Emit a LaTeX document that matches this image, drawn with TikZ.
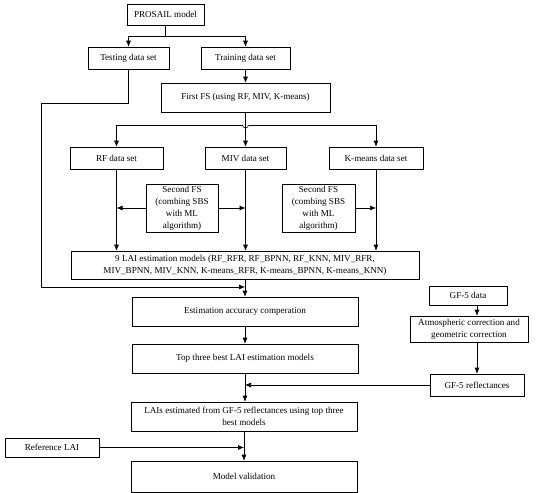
\documentclass[tikz,border=0pt]{standalone}
\usepackage{fontspec}
\setmainfont{Liberation Serif}
\usetikzlibrary{arrows.meta}
\begin{document}
\begin{tikzpicture}[x=1pt,y=-1pt,
  box/.style={draw,line width=0.6pt,inner sep=1pt,align=center,font=\fontsize{9.1}{12}\selectfont},
  arr/.style={-{Latex[length=6pt,width=5pt]},line width=0.6pt},
  ln/.style={line width=0.6pt}]
\useasboundingbox (0,0) rectangle (550,493);
\node[box,minimum width=77pt,minimum height=21pt] (prosail) at (165.5,14.5) {PROSAIL model};
\node[box,minimum width=81pt,minimum height=22pt] (testing) at (128.5,58) {Testing data set};
\node[box,minimum width=89pt,minimum height=22pt] (training) at (245.5,58) {Training data set};
\node[box,minimum width=169pt,minimum height=29pt] (firstfs) at (245.5,97.5) {First FS (using RF, MIV, K-means)};
\node[box,minimum width=93pt,minimum height=22pt] (rf) at (116.5,158) {RF data set};
\node[box,minimum width=81pt,minimum height=22pt] (miv) at (245.5,158) {MIV data set};
\node[box,minimum width=94pt,minimum height=22pt] (km) at (376,158) {K-means data set};
\node[box,minimum width=72pt,minimum height=48pt] (sfsa) at (182,208) {Second FS\\(combing SBS\\with ML\\algorithm)};
\node[box,minimum width=73pt,minimum height=48pt] (sfsb) at (318.5,208) {Second FS\\(combing SBS\\with ML\\algorithm)};
\node[box,minimum width=348pt,minimum height=28pt] (lai) at (245,265) {9 LAI estimation models (RF\_RFR, RF\_BPNN, RF\_KNN, MIV\_RFR,\\MIV\_BPNN, MIV\_KNN, K-means\_RFR, K-means\_BPNN, K-means\_KNN)};
\node[box,minimum width=226pt,minimum height=29pt] (est) at (245,311.5) {Estimation accuracy comperation};
\node[box,minimum width=226pt,minimum height=29pt] (top) at (245,358.5) {Top three best LAI estimation models};
\node[box,minimum width=226pt,minimum height=29pt] (lais) at (244,416.5) {LAIs estimated from GF-5 reflectances using top three\\best models};
\node[box,minimum width=94pt,minimum height=19pt] (ref) at (52,447.5) {Reference LAI};
\node[box,minimum width=226pt,minimum height=31pt] (val) at (244,476.5) {Model validation};
\node[box,minimum width=78pt,minimum height=19pt] (gf5) at (468,295.5) {GF-5 data};
\node[box,minimum width=118pt,minimum height=26pt] (atm) at (469,329) {Atmospheric correction and\\geometric correction};
\node[box,minimum width=94pt,minimum height=22pt] (gfr) at (477,385) {GF-5 reflectances};
\coordinate (split1) at (165.5,36);
\coordinate (split2) at (245.5,125);
\coordinate (tbend) at (128.5,103);
\coordinate (tleft) at (41,103);
\coordinate (tlow) at (41,287);
\coordinate (tjoin) at (245,287);
% PROSAIL split
\draw[ln] (prosail.south) -- (split1);
\draw[arr] (split1) -| (testing.north);
\draw[arr] (split1) -| (training.north);
\draw[arr] (training.south) -- (firstfs.north);
% first FS split with hop
\draw[arr] (firstfs.south) -- (miv.north);
\draw[arr] (split2) ++(-3,0) -- (rf.north |- split2) -- (rf.north);
\draw[arr] (split2) ++(3,0) -- (km.north |- split2) -- (km.north);
\draw[ln] (242.5,125) arc[start angle=180,end angle=0,radius=3];
% data sets to LAI models
\draw[arr] (rf.south) -- (rf.south |- lai.north);
\draw[arr] (miv.south) -- (lai.north -| miv.south);
\draw[arr] (km.south) -- (km.south |- lai.north);
\draw[arr] (sfsa.west) -- (sfsa.west -| rf.south);
\draw[arr] (sfsa.east) -- (sfsa.east -| miv.south);
\draw[arr] (sfsb.east) -- (sfsb.east -| km.south);
% testing path
\draw[arr] (testing.south) -- (tbend) -- (tleft) -- (tlow) -- (tjoin);
\draw[arr] (lai.south) -- (est.north);
\draw[arr] (est.south) -- (top.north);
\draw[arr] (top.south) -- (lais.north -| top.south);
\draw[arr] (gfr.west) -- (gfr.west -| top.south);
\draw[arr] (gf5.south -| gfr.north) -- (atm.north -| gfr.north);
\draw[arr] (atm.south -| gfr.north) -- (gfr.north);
\draw[arr] (lais.south) -- (val.north);
\draw[arr] (ref.east) -- (ref.east -| lais.south);
\end{tikzpicture}
\end{document}
